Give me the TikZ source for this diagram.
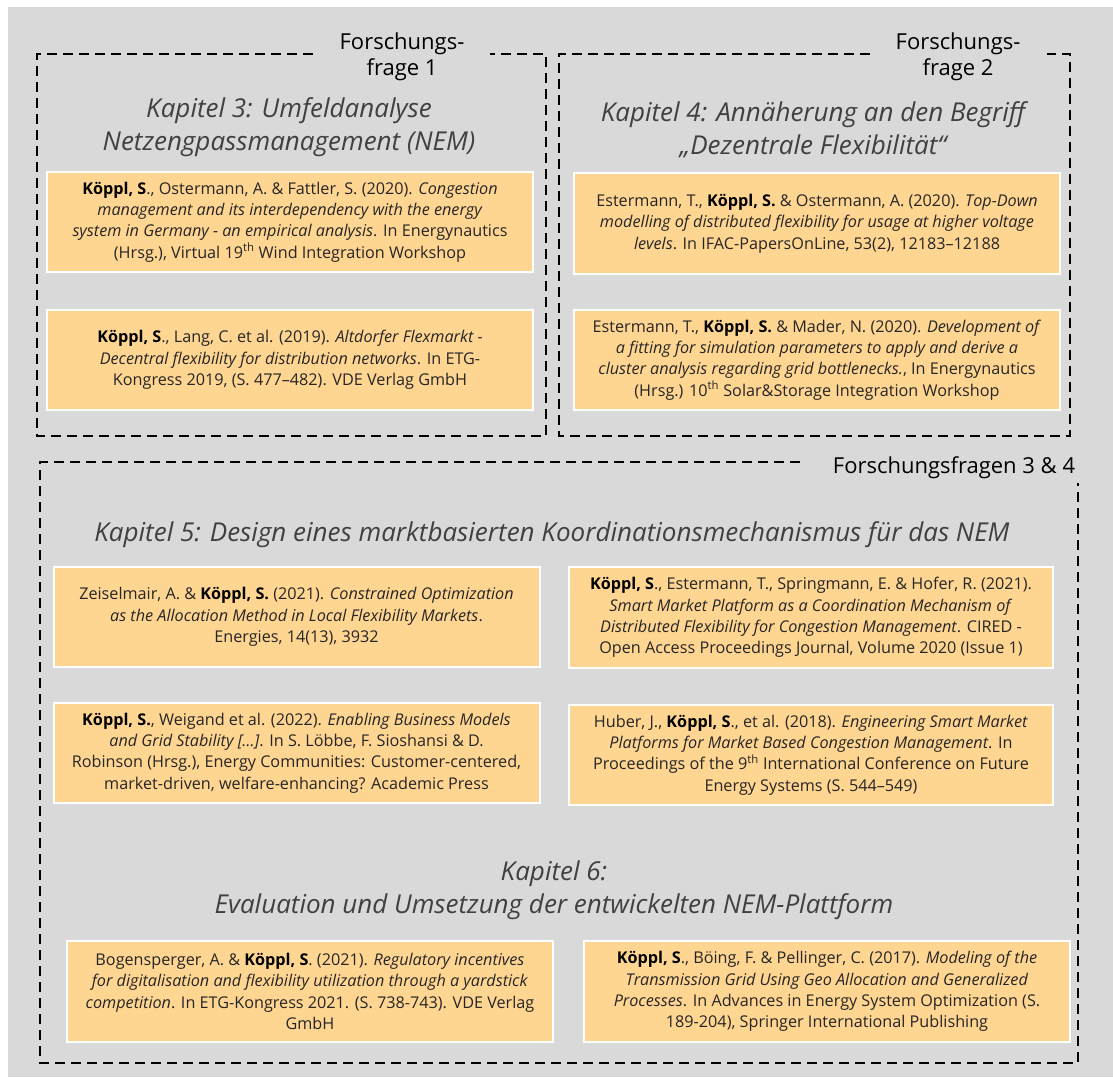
\documentclass[tikz,border=0pt]{standalone}
\usepackage{fontspec}
\setmainfont{Open Sans}
\definecolor{bg}{HTML}{D9D9D9}
\definecolor{pub}{HTML}{FFD592}
\definecolor{ink}{HTML}{262626}
\definecolor{headink}{HTML}{404040}
\newcommand{\KS}[1]{\textbf{\color{black}#1}}
\begin{document}
\begin{tikzpicture}[x=1pt,y=-1pt,
  frame/.style={line width=2.5pt, dash pattern=on 10pt off 6pt, black},
  pubbox/.style={fill=pub, draw=white, line width=2pt, inner sep=0pt, align=center,
    text=ink, font=\fontsize{16.2}{21.3}\selectfont},
  chapter/.style={align=center, text=headink, font=\fontsize{26}{33}\selectfont\itshape},
  rq/.style={align=center, text=black, font=\fontsize{22}{26.5}\selectfont}]
\useasboundingbox (0,0) rectangle (1113,1077);
\fill[bg] (8,7) rectangle (1113,1077);

% research question frames
\draw[frame] (313,54) -- (37,54) -- (37,436) -- (546,436) -- (546,54) -- (490,54);
\draw[frame] (870,54) -- (559,54) -- (559,436) -- (1070,436) -- (1070,54) -- (1047,54);
\draw[frame] (800,462) -- (40,462) -- (40,1063) -- (1078,1063) -- (1078,483);

\node[rq] (rq1) at (402,57) {Forschungs-\\frage 1};
\node[rq] (rq2) at (958,57) {Forschungs-\\frage 2};
\node[rq] (rq34) at (954,468) {Forschungsfragen 3 \& 4};

% chapter titles
\node[chapter] (ch3) at (289,127) {Kapitel 3: Umfeldanalyse\\Netzengpassmanagement (NEM)};
\node[chapter] (ch4) at (813,130) {Kapitel 4: Annäherung an den Begriff\\„Dezentrale Flexibilität“};
\node[chapter] (ch5) at (552,535) {Kapitel 5: Design eines marktbasierten Koordinationsmechanismus für das NEM};
\node[chapter] (ch6) at (554,890) {Kapitel 6:\\Evaluation und Umsetzung der entwickelten NEM-Plattform};

% publications
\node[pubbox, minimum width=486, minimum height=100] (a1) at (290,222) {%
\KS{Köppl, S}., Ostermann, A. \& Fattler, S. (2020). \textit{Congestion}\\
\textit{management and its interdependency with the energy}\\
\textit{system in Germany - an empirical analysis}. In Energynautics\\
(Hrsg.), Virtual 19\textsuperscript{th} Wind Integration Workshop};
\node[pubbox, minimum width=486, minimum height=100] (a2) at (290,360) {%
\KS{Köppl, S}., Lang, C. et al. (2019). \textit{Altdorfer Flexmarkt -}\\
\textit{Decentral flexibility for distribution networks}. In ETG-\\
Kongress 2019, (S. 477–482). VDE Verlag GmbH};

\node[pubbox, minimum width=486, minimum height=101] (b1) at (817,223.5) {%
Estermann, T., \KS{Köppl, S.} \& Ostermann, A. (2020). \textit{Top-Down}\\
\textit{modelling of distributed flexibility for usage at higher voltage}\\
\textit{levels}. In IFAC-PapersOnLine, 53(2), 12183–12188};
\node[pubbox, minimum width=486, minimum height=100] (b2) at (817,360) {%
Estermann, T., \KS{Köppl, S.} \& Mader, N. (2020). \textit{Development of}\\
\textit{a fitting for simulation parameters to apply and derive a}\\
\textit{cluster analysis regarding grid bottlenecks.}, In Energynautics\\
(Hrsg.) 10\textsuperscript{th} Solar\&Storage Integration Workshop};

\node[pubbox, minimum width=486, minimum height=100] (c1) at (296.5,617) {%
Zeiselmair, A. \& \KS{Köppl, S.} (2021). \textit{Constrained Optimization}\\
\textit{as the Allocation Method in Local Flexibility Markets}.\\
Energies, 14(13), 3932};
\node[pubbox, minimum width=486, minimum height=100] (c2) at (296.5,753) {%
\KS{Köppl, S.}, Weigand et al. (2022). \textit{Enabling Business Models}\\
\textit{and Grid Stability […]}. In S. Löbbe, F. Sioshansi \& D.\\
Robinson (Hrsg.), Energy Communities: Customer-centered,\\
market-driven, welfare-enhancing? Academic Press};

\node[pubbox, minimum width=484, minimum height=101] (d1) at (811,617.5) {%
\KS{Köppl, S}., Estermann, T., Springmann, E. \& Hofer, R. (2021).\\
\textit{Smart Market Platform as a Coordination Mechanism of}\\
\textit{Distributed Flexibility for Congestion Management}. CIRED -\\
Open Access Proceedings Journal, Volume 2020 (Issue 1)};
\node[pubbox, minimum width=484, minimum height=100] (d2) at (811,755) {%
Huber, J., \KS{Köppl, S}., et al. (2018). \textit{Engineering Smart Market}\\
\textit{Platforms for Market Based Congestion Management}. In\\
Proceedings of the 9\textsuperscript{th} International Conference on Future\\
Energy Systems (S. 544–549)};

\node[pubbox, minimum width=486, minimum height=101] (e1) at (310,991.5) {%
Bogensperger, A. \& \KS{Köppl, S}. (2021). \textit{Regulatory incentives}\\
\textit{for digitalisation and flexibility utilization through a yardstick}\\
\textit{competition}. In ETG-Kongress 2021. (S. 738-743). VDE Verlag\\
GmbH};
\node[pubbox, minimum width=486, minimum height=101] (e2) at (827,991.5) {%
\KS{Köppl, S}., Böing, F. \& Pellinger, C. (2017). \textit{Modeling of the}\\
\textit{Transmission Grid Using Geo Allocation and Generalized}\\
\textit{Processes}. In Advances in Energy System Optimization (S.\\
189-204), Springer International Publishing};
\end{tikzpicture}
\end{document}
